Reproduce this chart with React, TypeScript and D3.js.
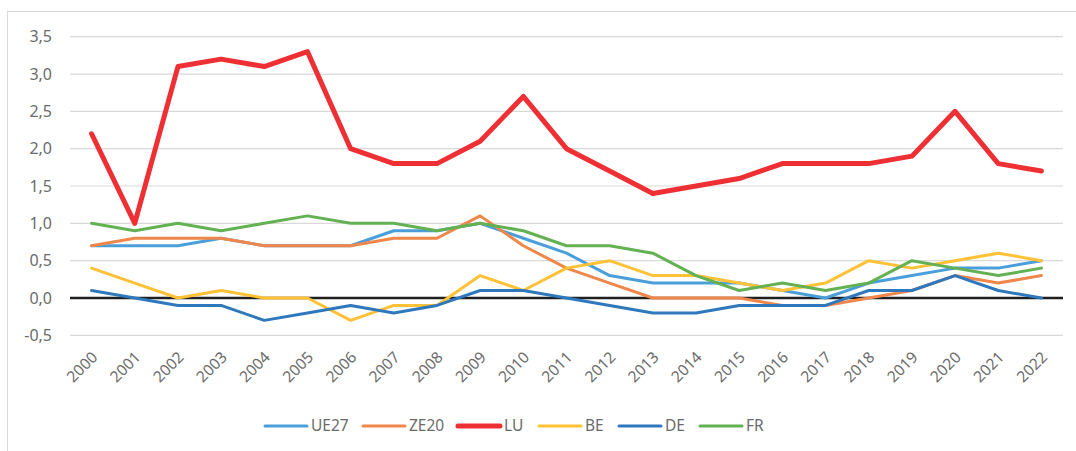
import React from "react";
import * as d3 from "d3";

const years = ["2000","2001","2002","2003","2004","2005","2006","2007","2008","2009","2010","2011","2012","2013","2014","2015","2016","2017","2018","2019","2020","2021","2022"];
const UE27 = [0.7,0.7,0.7,0.8,0.7,0.7,0.7,0.9,0.9,1.0,0.8,0.6,0.3,0.2,0.2,0.2,0.1,0.0,0.2,0.3,0.4,0.4,0.5];
const ZE20 = [0.7,0.8,0.8,0.8,0.7,0.7,0.7,0.8,0.8,1.1,0.7,0.4,0.2,0.0,0.0,0.0,-0.1,-0.1,0.0,0.1,0.3,0.2,0.3];
const LU = [2.2,1.0,3.1,3.2,3.1,3.3,2.0,1.8,1.8,2.1,2.7,2.0,1.7,1.4,1.5,1.6,1.8,1.8,1.8,1.9,2.5,1.8,1.7];
const BE = [0.4,0.2,0.0,0.1,0.0,0.0,-0.3,-0.1,-0.1,0.3,0.1,0.4,0.5,0.3,0.3,0.2,0.1,0.2,0.5,0.4,0.5,0.6,0.5];
const DE = [0.1,0.0,-0.1,-0.1,-0.3,-0.2,-0.1,-0.2,-0.1,0.1,0.1,0.0,-0.1,-0.2,-0.2,-0.1,-0.1,-0.1,0.1,0.1,0.3,0.1,0.0];
const FR = [1.0,0.9,1.0,0.9,1.0,1.1,1.0,1.0,0.9,1.0,0.9,0.7,0.7,0.6,0.3,0.1,0.2,0.1,0.2,0.5,0.4,0.3,0.4];
const yTicks = [-0.5,0,0.5,1,1.5,2,2.5,3,3.5];

const series = [
  { name: "UE27", values: UE27, color: "#4A9FDA", width: 3 },
  { name: "ZE20", values: ZE20, color: "#F0874A", width: 3 },
  { name: "LU", values: LU, color: "#EE3035", width: 5 },
  { name: "BE", values: BE, color: "#FFC135", width: 3 },
  { name: "DE", values: DE, color: "#2F78BE", width: 3 },
  { name: "FR", values: FR, color: "#63B153", width: 3 },
];

const legendX = [265, 363, 458, 539, 619, 700];

export default function App() {
  const W = 1076, H = 451;
  const x = d3.scaleBand().domain(years).range([70, 1063]);
  const cx = (yr: string) => (x(yr) as number) + x.bandwidth() / 2;
  const y = d3.scaleLinear().domain([-0.5, 3.5]).range([335.3, 36.7]);
  const font = "'Noto Sans', 'Open Sans', sans-serif";
  const textColor = "#6B6B6B";
  const fmt = (v: number) => v.toFixed(1).replace(".", ",");
  return (
    <svg width={W} height={H} style={{ position: "absolute", left: 0, top: 0, background: "#fff" }}>
      <rect x={7.5} y={11.5} width={1080} height={460} fill="#fff" stroke="#D9D9D9" strokeWidth={1} />
      {yTicks.map((t) => (
        <g key={t}>
          {t !== 0 && <line x1={70} x2={1063} y1={y(t)} y2={y(t)} stroke="#D9D9D9" strokeWidth={1.2} />}
          <text x={52} y={y(t)} dy="0.35em" textAnchor="end" fontFamily={font} fontSize={16} fill={textColor}>
            {fmt(t)}
          </text>
        </g>
      ))}
      <line x1={70} x2={1063} y1={y(0)} y2={y(0)} stroke="#1F1F1F" strokeWidth={2.5} />
      {years.map((yr) => (
        <text
          key={yr}
          transform={`translate(${cx(yr) + 3},${y(-0.5) + 19}) rotate(-45)`}
          textAnchor="end"
          dy="0.35em"
          fontFamily={font}
          fontSize={15.5}
          fill={textColor}
        >
          {yr}
        </text>
      ))}
      {series.map((s) => {
        const line = d3
          .line<number>()
          .x((_, i) => cx(years[i]))
          .y((d) => y(d));
        return (
          <path
            key={s.name}
            d={line(s.values) as string}
            fill="none"
            stroke={s.color}
            strokeWidth={s.width}
            strokeLinejoin="round"
            strokeLinecap="round"
          />
        );
      })}
      {series.map((s, i) => (
        <g key={s.name}>
          <line x1={legendX[i]} x2={legendX[i] + 42} y1={426} y2={426} stroke={s.color} strokeWidth={s.width} strokeLinecap="round" />
          <text x={legendX[i] + 46} y={426} dy="0.35em" fontFamily={font} fontSize={15.5} fill={textColor}>
            {s.name}
          </text>
        </g>
      ))}
    </svg>
  );
}
